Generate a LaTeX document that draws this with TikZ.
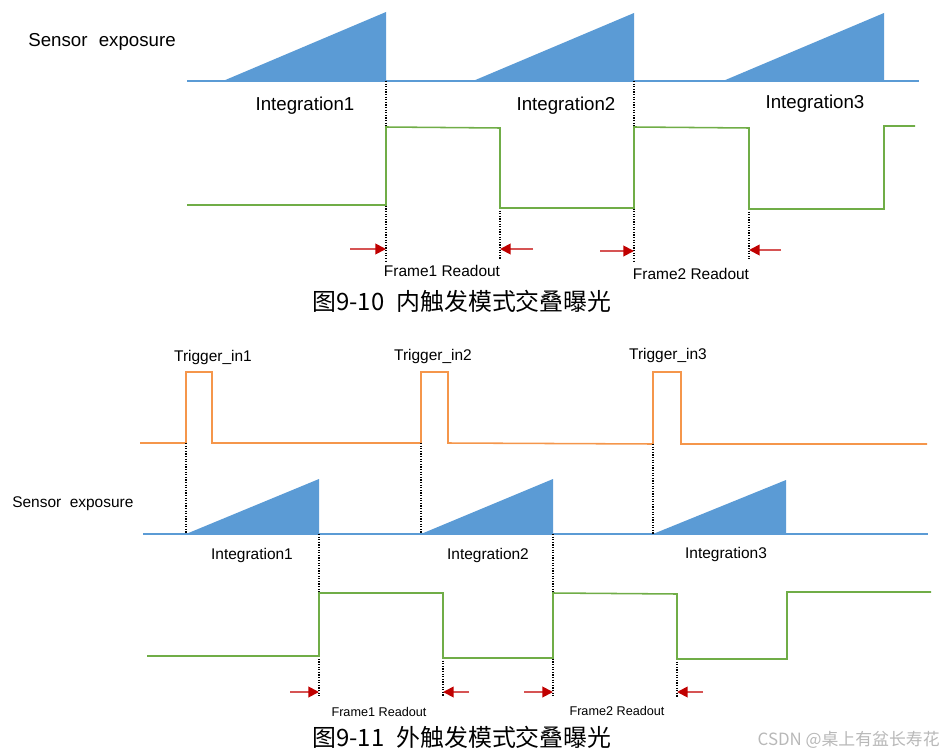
\documentclass[tikz,border=0pt]{standalone}
\usepackage{fontspec}
\setmainfont{Liberation Sans}
\newfontfamily\cjk{Noto Sans CJK SC}
\usetikzlibrary{calc,arrows.meta}
\definecolor{expblue}{RGB}{91,155,213}
\definecolor{siggreen}{RGB}{112,173,71}
\definecolor{trigorange}{RGB}{245,150,75}
\definecolor{tipred}{RGB}{192,0,0}
\definecolor{shaftred}{RGB}{214,84,84}
\def\ramp(#1:#2:#3:#4){\fill[expblue] (#1, #4) -- (#2, #4) -- (#2, #3) -- cycle;}

\begin{document}
\begin{tikzpicture}[x=0.025cm, y=-0.025cm,
	expline/.style={line width=1.2pt, color=expblue},
	sigline/.style={line width=1.1pt, color=siggreen},
	trigline/.style={line width=1.1pt, color=trigorange},
	guide/.style={densely dotted, line width=0.85pt},
	readarrow/.style={line width=1.3pt, color=shaftred, -{Triangle[length=7.5pt, width=7.5pt, color=tipred]}},
	bigtxt/.style={font=\fontsize{13.3}{15}\selectfont, inner sep=0pt},
	midtxt/.style={font=\fontsize{11}{13}\selectfont, inner sep=0pt},
	smalltxt/.style={font=\fontsize{9}{11}\selectfont, inner sep=0pt},
	captxt/.style={font=\cjk\fontsize{17}{20}\selectfont, inner sep=0pt}]
			%%%%% START %%%%%
			\useasboundingbox (0, 0) rectangle (944, 755);
			
			%% internal trigger
			\node[bigtxt, anchor=west] (sens1) at (28, 42) {Sensor\hspace{0.6em}exposure};
			
			\draw[expline] (187, 81) -- (919, 81);
			\ramp(223:386:12:81)
			\ramp(473:634:13:81)
			\ramp(723:884:13:81)
			
			\node[bigtxt] (int1) at (305, 106) {Integration1};
			\node[bigtxt] (int2) at (566, 106) {Integration2};
			\node[bigtxt] (int3) at (815, 104) {Integration3};
			
			\draw[guide] (386, 81) -- (386, 261);
			\draw[guide] (500, 208) -- (500, 259);
			\draw[guide] (634, 81) -- (634, 262);
			\draw[guide] (749, 209) -- (749, 259);
			
			\draw[sigline] (187, 205) -- (386, 205) -- (386, 127) -- (500, 128) -- (500, 208) -- (634, 208) -- (634, 127) -- (749, 128) -- (749, 209) -- (884, 209) -- (884, 126) -- (915, 126);
			
			\coordinate (f1a) at (386, 249);
			\coordinate (f1b) at (500, 249);
			\coordinate (f2a) at (634, 251);
			\coordinate (f2b) at (749, 250);
			\draw[readarrow] ($(f1a)+(-36, 0)$) -- (f1a);
			\draw[readarrow] ($(f1b)+(33, 0)$) -- (f1b);
			\draw[readarrow] ($(f2a)+(-34, 0)$) -- (f2a);
			\draw[readarrow] ($(f2b)+(32, 0)$) -- (f2b);
			
			\node[midtxt] (rd1) at (442, 271) {Frame1 Readout};
			\node[midtxt] (rd2) at (691, 274) {Frame2 Readout};
			
			\node[captxt] (cap1) at (462, 301) {图9-10\hspace{0.5em}内触发模式交叠曝光};
			
			%% external trigger
			\node[midtxt] (trg1) at (213, 357) {Trigger\_in1};
			\node[midtxt] (trg2) at (433, 356) {Trigger\_in2};
			\node[midtxt] (trg3) at (668, 355) {Trigger\_in3};
			
			\draw[trigline] (140, 443) -- (186, 443) -- (186, 372) -- (212, 372) -- (212, 443) -- (421, 443) -- (421, 372) -- (448, 372) -- (448, 443) -- (653, 444) -- (653, 372) -- (681, 372) -- (681, 444) -- (927, 444);
			
			\node[midtxt, anchor=west] (sens2) at (12, 504) {Sensor\hspace{0.55em}exposure};
			
			\draw[expline] (143, 534) -- (928, 534);
			\ramp(186:319:479:534)
			\ramp(421:553:479:534)
			\ramp(653:786:480:534)
			
			\draw[guide] (186, 443) -- (186, 534);
			\draw[guide] (421, 443) -- (421, 534);
			\draw[guide] (653, 444) -- (653, 534);
			\draw[guide] (319, 534) -- (319, 697);
			\draw[guide] (553, 534) -- (553, 697);
			\draw[guide] (443, 658) -- (443, 697);
			\draw[guide] (677, 659) -- (677, 697);
			
			\node[midtxt] (int4) at (252, 555) {Integration1};
			\node[midtxt] (int5) at (488, 555) {Integration2};
			\node[midtxt] (int6) at (726, 554) {Integration3};
			
			\draw[sigline] (147, 656) -- (319, 656) -- (319, 593) -- (443, 593) -- (443, 658) -- (553, 658) -- (553, 593) -- (677, 594) -- (677, 659) -- (787, 659) -- (787, 592) -- (931, 592);
			
			\coordinate (g1a) at (319, 692);
			\coordinate (g1b) at (443, 692);
			\coordinate (g2a) at (553, 692);
			\coordinate (g2b) at (677, 692);
			\draw[readarrow] ($(g1a)+(-29, 0)$) -- (g1a);
			\draw[readarrow] ($(g1b)+(26, 0)$) -- (g1b);
			\draw[readarrow] ($(g2a)+(-29, 0)$) -- (g2a);
			\draw[readarrow] ($(g2b)+(26, 0)$) -- (g2b);
			
			\node[smalltxt] (rd3) at (379, 712) {Frame1 Readout};
			\node[smalltxt] (rd4) at (617, 711) {Frame2 Readout};
			
			\node[captxt] (cap2) at (462, 737) {图9-11\hspace{0.5em}外触发模式交叠曝光};
			
			\node[font=\cjk\fontsize{12}{14}\selectfont, text=black!28, inner sep=0pt, anchor=east] (mark) at (940, 740) {CSDN @桌上有盆长寿花};
			
			%%%%% END %%%%%
\end{tikzpicture}
\end{document}
